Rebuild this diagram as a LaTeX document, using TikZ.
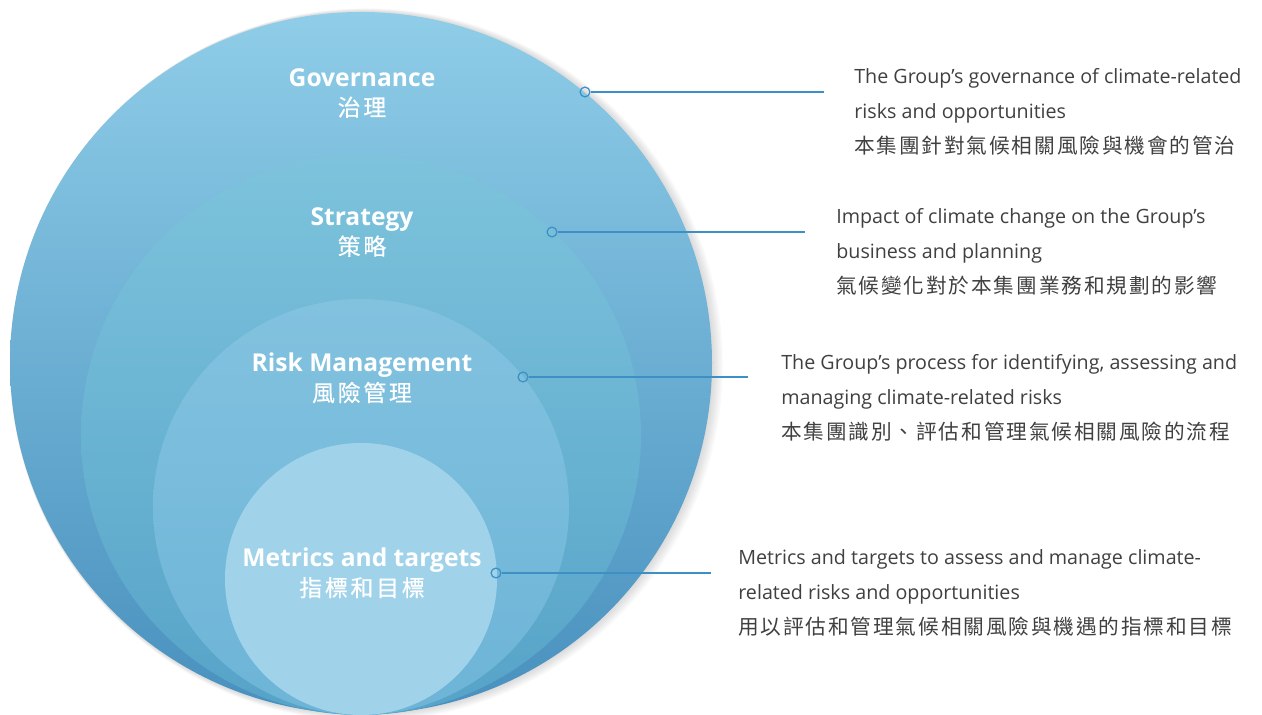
\documentclass[tikz,border=0pt]{standalone}
\usepackage{fontspec}
\setmainfont{Open Sans}
\newfontfamily\cjk{Noto Sans CJK TC}[Scale=1.05, LetterSpace=9]
\newfontfamily\cjkw{Noto Sans CJK TC}[Scale=0.93, LetterSpace=12, FakeBold=0.6]
\usepackage{tikz}
\usetikzlibrary{positioning}
\definecolor{outer_top}{HTML}{8FCDE8}
\definecolor{outer_bot}{HTML}{4890BE}
\definecolor{strat_top}{HTML}{7DC3DC}
\definecolor{strat_bot}{HTML}{56A3C8}
\definecolor{risk_top}{HTML}{82C2DF}
\definecolor{risk_bot}{HTML}{6DB4D7}
\definecolor{metric_fill}{HTML}{A0D3EA}
\definecolor{link_blue}{HTML}{3C90C4}
\definecolor{note_gray}{HTML}{404040}
\tikzset{
    ring_label/.style={text=white, align=center, inner sep=0pt,
        font=\bfseries\fontsize{14}{17}\selectfont},
    marker/.style={circle, draw=link_blue, line width=0.7pt, inner sep=0pt, minimum size=5.6pt},
    link/.style={draw=link_blue, line width=0.7pt},
    note/.style={anchor=north west, align=left, inner sep=0pt, text=note_gray,
        font=\fontsize{11.2}{19.85}\selectfont}
}

\begin{document}
\begin{tikzpicture}[x=0.02cm, y=-0.02cm]
    \useasboundingbox (0,0) rectangle (1262,715);
    % soft shadow
    \foreach \i in {1,...,6}
        \fill[black, opacity=0.025] (361+\i*0.9,363+\i*0.3) circle (351+\i*0.9);
    % nested circles
    \shade[top color=outer_top, bottom color=outer_bot] (361,363) circle (351);
    \shade[top color=strat_top, bottom color=strat_bot] (361,435) circle (280);
    \shade[top color=risk_top, bottom color=risk_bot] (361,507) circle (208);
    \fill[metric_fill] (361,579) circle (136);
    % circle labels
    \node[ring_label] (gov) at (362,93) {Governance\\{\mdseries\cjkw 治理}};
    \node[ring_label] (strat) at (362,232) {Strategy\\{\mdseries\cjkw 策略}};
    \node[ring_label] (risk) at (362,378) {Risk Management\\{\mdseries\cjkw 風險管理}};
    \node[ring_label] (metric) at (362,573) {Metrics and targets\\{\mdseries\cjkw 指標和目標}};
    % markers and leader lines
    \node[marker] (gov_dot) at (585,92) {};
    \node[marker] (strat_dot) at (552,232) {};
    \node[marker] (risk_dot) at (523,377) {};
    \node[marker] (metric_dot) at (496,573) {};
    \coordinate (gov_end) at (824,92);
    \coordinate (strat_end) at (805,232);
    \coordinate (risk_end) at (748,377);
    \coordinate (metric_end) at (711,573);
    \draw[link] (gov_dot) -- (gov_end);
    \draw[link] (strat_dot) -- (strat_end);
    \draw[link] (risk_dot) -- (risk_end);
    \draw[link] (metric_dot) -- (metric_end);
    % descriptions
    \node[note] (gov_note) at (854,68) {The Group’s governance of climate-related\\risks and opportunities\\{\cjk 本集團針對氣候相關風險與機會的管治}};
    \node[note] (strat_note) at (836,208) {Impact of climate change on the Group’s\\business and planning\\{\cjk 氣候變化對於本集團業務和規劃的影響}};
    \node[note] (risk_note) at (781,354) {The Group’s process for identifying, assessing and\\managing climate-related risks\\{\cjk 本集團識別、評估和管理氣候相關風險的流程}};
    \node[note] (metric_note) at (738,549) {Metrics and targets to assess and manage climate-\\related risks and opportunities\\{\cjk 用以評估和管理氣候相關風險與機遇的指標和目標}};
\end{tikzpicture}
\end{document}
